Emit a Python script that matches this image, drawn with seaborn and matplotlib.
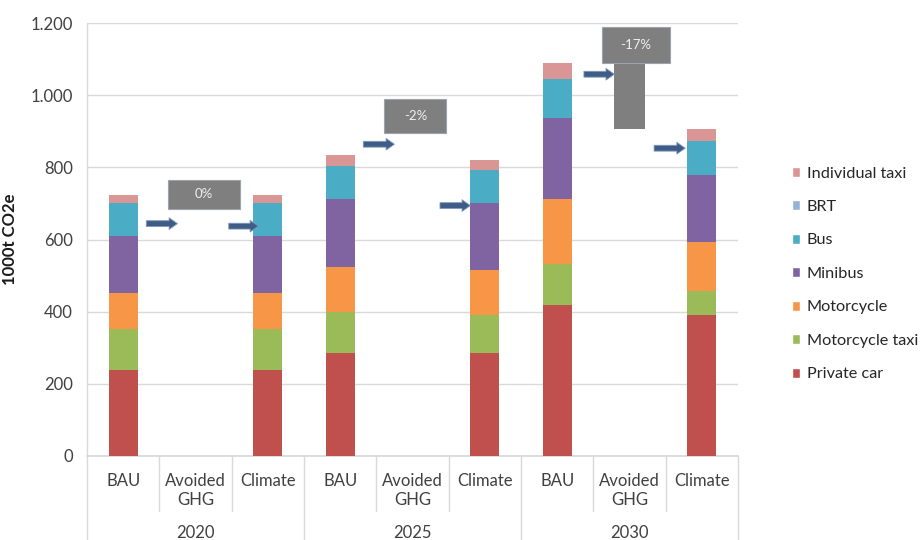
import numpy as np
import pandas as pd
import seaborn as sns
import matplotlib.pyplot as plt
import matplotlib.transforms as mtransforms
from matplotlib.patches import Patch, Rectangle

# Data (1000t CO2e)
years = ["2020", "2025", "2030"]
scenarios = ["BAU", "Avoided\nGHG", "Climate"]
modes = ["Private car", "Motorcycle taxi", "Motorcycle", "Minibus", "Bus", "BRT", "Individual taxi"]
colors = ["#C0504D", "#9BBB59", "#F79646", "#8064A2", "#4BACC6", "#95B3D7", "#D99694"]

private_car = [238, 0, 238, 286, 0, 286, 419, 0, 391]
motorcycle_taxi = [113, 0, 113, 113, 0, 105, 112, 0, 65]
motorcycle = [102, 0, 102, 125, 0, 124, 180, 0, 136]
minibus = [158, 0, 158, 189, 0, 186, 226, 0, 186]
bus = [89, 0, 89, 91, 0, 91, 108, 0, 95]
brt = [0, 0, 0, 0, 0, 0, 0, 0, 0]
individual_taxi = [23, 0, 23, 29, 0, 28, 45, 0, 33]

# floating "avoided" bars (bottom, height) per year
avoided_bottom = [723, 820, 906]
avoided_height = [0, 0, 183]
change_labels = ["0%", "-2%", "-17%"]
# label boxes: (centre in category units, bottom, top, width)
label_boxes = [(1.12, 685, 766, 1.0), (4.04, 895, 988, 0.86), (7.09, 1088, 1188, 0.94)]
# arrows: (x start, x end, y)
arrows = [(0.32, 0.75, 644), (1.46, 1.87, 637), (3.32, 3.75, 864),
          (4.38, 4.80, 694), (6.37, 6.79, 1058), (7.34, 7.77, 853)]

keys = [f"{y} {s}" for y in years for s in scenarios]
tick_labels = [s for y in years for s in scenarios]
series = [private_car, motorcycle_taxi, motorcycle, minibus, bus, brt, individual_taxi]
cum = np.cumsum(np.array(series), axis=0)

sns.set_theme(style="white")
plt.rcParams["font.family"] = ["Lato", "DejaVu Sans"]

fig = plt.figure(figsize=(9.22, 5.40), dpi=100)
ax = fig.add_axes([87 / 922, 84 / 540, 651 / 922, 433 / 540])

# stacked bars: draw cumulative totals from the top layer down
for i in range(len(modes) - 1, -1, -1):
    df = pd.DataFrame({"col": keys, "val": cum[i]})
    sns.barplot(data=df, x="col", y="val", order=keys, color=colors[i],
                saturation=1, width=0.4, errorbar=None, linewidth=0,
                edgecolor="none", ax=ax, zorder=3)

# avoided GHG floating bar
for j in range(len(years)):
    if avoided_height[j] > 0:
        ax.bar(3 * j + 1, avoided_height[j], bottom=avoided_bottom[j], width=0.43,
               color="#7F7F7F", linewidth=0, zorder=3)

# percentage label boxes
for (xc, y0, y1, w), lab in zip(label_boxes, change_labels):
    ax.add_patch(Rectangle((xc - w / 2, y0), w, y1 - y0, facecolor="#7F7F7F",
                           edgecolor="#9AA3B0", lw=0.8, zorder=4, clip_on=False))
    ax.text(xc, (y0 + y1) / 2, lab, ha="center", va="center", color="#F0F0F0",
            fontsize=9.5, zorder=5)

# arrows
for x0, x1, y in arrows:
    ax.annotate("", xy=(x1, y), xytext=(x0, y), zorder=5,
                arrowprops=dict(arrowstyle="simple,head_length=0.5,head_width=0.7,tail_width=0.35",
                                fc="#3E5C86", ec="#7F99BD", lw=0.6, shrinkA=0, shrinkB=0))

ax.set_xlim(-0.5, 8.5)
ax.set_ylim(0, 1200)
ax.set_yticks(range(0, 1201, 200))
ax.set_yticklabels([f"{v:,}".replace(",", ".") for v in range(0, 1201, 200)])
ax.set_xticks(range(len(keys)))
ax.set_xticklabels(tick_labels, linespacing=1.25)
ax.set_xlabel("")
ax.set_ylabel("1000t CO2e", fontsize=12, fontweight="bold", color="#1A1A1A", labelpad=9)
ax.yaxis.grid(True, color="#D9D9D9", lw=1, zorder=0)
ax.set_axisbelow(True)
for s in ["top", "right", "left"]:
    ax.spines[s].set_visible(False)
ax.spines["bottom"].set_color("#D9D9D9")
ax.tick_params(axis="y", length=5, color="#D9D9D9", pad=5, labelsize=12, labelcolor="#404040")
ax.tick_params(axis="x", length=0, pad=12, labelsize=12, labelcolor="#404040")

# category separators below the axis
trans = mtransforms.blended_transform_factory(ax.transData, ax.transAxes)
for k in range(len(keys) + 1):
    xs = k - 0.5
    low = -0.25 if k % 3 == 0 else -0.127
    ax.plot([xs, xs], [0, low], transform=trans, color="#D9D9D9", lw=1, clip_on=False)
ax.plot([-0.5, -0.5], [0, 1], transform=trans, color="#D9D9D9", lw=1, clip_on=False)
for j, y in enumerate(years):
    ax.text(3 * j + 1, -0.189, y, transform=trans, ha="center", va="baseline",
            fontsize=12, color="#404040")

handles = [Patch(facecolor=colors[i], label=modes[i]) for i in range(len(modes) - 1, -1, -1)]
fig.legend(handles=handles, loc="upper left", bbox_to_anchor=(785 / 922, 1 - 160 / 540),
           frameon=False, fontsize=11.7, handlelength=0.55, handleheight=0.55,
           handletextpad=0.4, labelspacing=1.2, labelcolor="#262626", borderaxespad=0)

fig.savefig("out.png", dpi=100)
